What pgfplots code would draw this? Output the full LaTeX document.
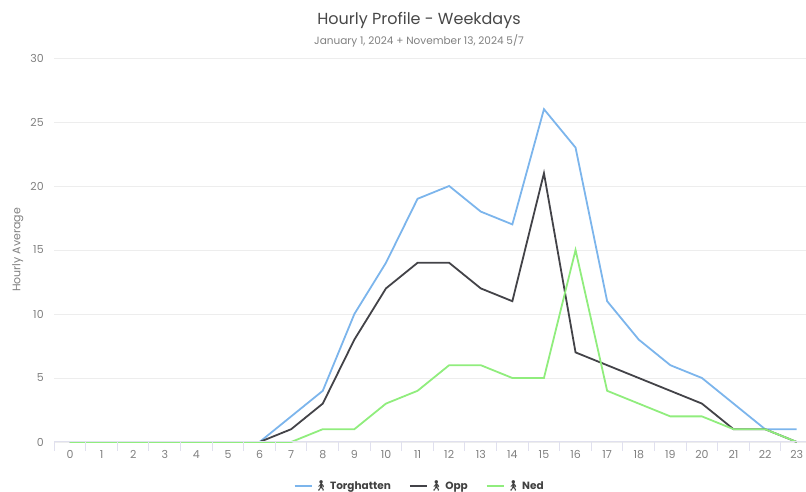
\documentclass[border=0pt]{standalone}
\usepackage{fontspec}
\usepackage{pgfplots}
\pgfplotsset{compat=1.18}
\setmainfont{Poppins}
\newfontfamily\emo{Noto Emoji}
\definecolor{tor}{HTML}{7CB5EC}
\definecolor{opp}{HTML}{434348}
\definecolor{ned}{HTML}{90ED7D}
\newcommand{\walk}{{\emo\symbol{"1F6B6}}}
\begin{document}
\begin{tikzpicture}
\useasboundingbox (0pt,0pt) rectangle (806pt,492pt);
\begin{axis}[
  at={(70pt,50pt)},anchor=origin,
  scale only axis,width=752pt,height=384pt,
  xmin=-0.5,xmax=23.3,ymin=0,ymax=30,
  axis line style={draw=none},
  axis x line*=bottom,
  axis y line*=left,
  xtick={0,...,23},
  ytick={0,5,...,30},
  major tick length=0pt,
  tick style={draw=none},
  ymajorgrids,
  grid style={draw=black!7,line width=0.9pt},
  clip=false,
  ticklabel style={font=\fontsize{11}{12}\selectfont,text=black!50},
  /pgf/number format/assume math mode=true,
  xticklabel style={yshift=-5pt},
  yticklabel style={xshift=-7pt},
  ylabel={Hourly Average},
  ylabel shift=0pt,
  ylabel style={font=\fontsize{11}{12}\selectfont,text=black!50},
  legend columns=3,
  legend style={at={(axis description cs:0.486,-0.115)},anchor=center,draw=none,fill=none,
    font=\fontsize{10.5}{12}\selectfont\bfseries,text=black!75,
    /tikz/every even column/.append style={column sep=16pt},
    inner sep=0pt},
  legend cell align=left,
  legend image post style={line width=1.8pt},
]
\addplot[tor,line width=1.8pt] coordinates {(0,0)(1,0)(2,0)(3,0)(4,0)(5,0)(6,0)(7,2)(8,4)(9,10)(10,14)(11,19)(12,20)(13,18)(14,17)(15,26)(16,23)(17,11)(18,8)(19,6)(20,5)(21,3)(22,1)(23,1)};
\addlegendentry{\walk\ Torghatten}
\addplot[opp,line width=1.8pt] coordinates {(0,0)(1,0)(2,0)(3,0)(4,0)(5,0)(6,0)(7,1)(8,3)(9,8)(10,12)(11,14)(12,14)(13,12)(14,11)(15,21)(16,7)(17,6)(18,5)(19,4)(20,3)(21,1)(22,1)(23,0)};
\addlegendentry{\walk\ Opp}
\addplot[ned,line width=1.8pt] coordinates {(0,0)(1,0)(2,0)(3,0)(4,0)(5,0)(6,0)(7,0)(8,1)(9,1)(10,3)(11,4)(12,6)(13,6)(14,5)(15,5)(16,15)(17,4)(18,3)(19,2)(20,2)(21,1)(22,1)(23,0)};
\addlegendentry{\walk\ Ned}
\end{axis}
\begin{scope}[x=1pt,y=1pt]
\clip (0,0) rectangle (806,492);
\draw[draw=blue!45!black!12,line width=1pt] (54,50) -- (806,50);
\foreach \i in {0,...,23} {\draw[draw=blue!45!black!12,line width=1pt] ({54+31.6*\i},50) -- ({54+31.6*\i},41);}
\node[font=\fontsize{16}{18}\selectfont,text=black!72] at (419,472) {Hourly Profile - Weekdays};
\node[font=\fontsize{10.5}{12}\selectfont,text=black!50] at (419,451) {January 1, 2024 + November 13, 2024 5/7};
\end{scope}
\end{tikzpicture}
\end{document}
